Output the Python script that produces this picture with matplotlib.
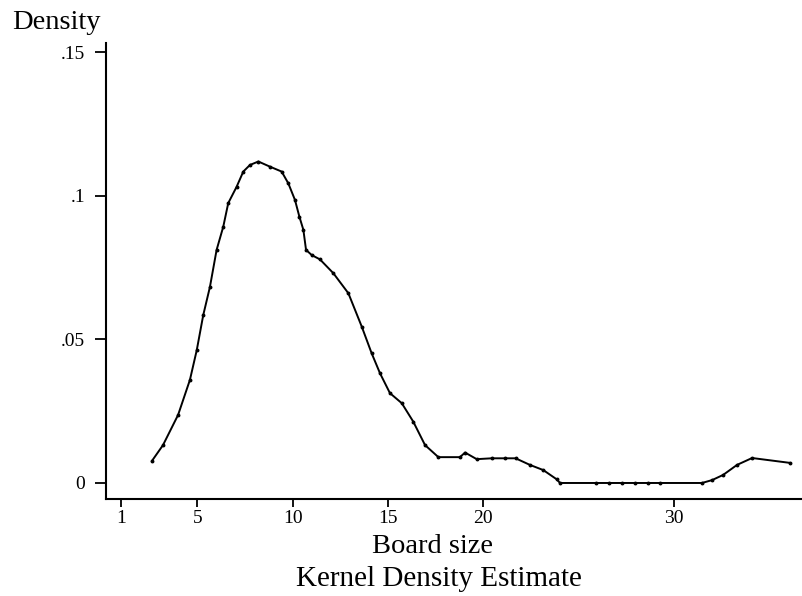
import matplotlib.pyplot as plt

# valores (estimativa de densidade kernel)
board_size = [2.62, 3.20, 3.99, 4.61, 4.97, 5.31, 5.66, 6.01, 6.36, 6.62, 7.06,
              7.41, 7.76, 8.20, 8.81, 9.42, 9.77, 10.12, 10.35, 10.56, 10.70,
              11.00, 11.43, 12.13, 12.92, 13.62, 14.14, 14.58, 15.10, 15.72,
              16.32, 16.94, 17.64, 18.77, 19.04, 19.65, 20.44, 21.13, 21.69,
              22.44, 23.14, 23.84, 24.02, 25.90, 26.59, 27.27, 27.95, 28.63,
              29.26, 31.46, 31.99, 32.57, 33.30, 34.09, 36.08]
density = [0.0077, 0.0132, 0.0237, 0.0359, 0.0463, 0.0585, 0.0683, 0.0812,
           0.0893, 0.0975, 0.1032, 0.1085, 0.1108, 0.1120, 0.1102, 0.1085,
           0.1044, 0.0986, 0.0928, 0.0882, 0.0812, 0.0794, 0.0779, 0.0731,
           0.0661, 0.0545, 0.0452, 0.0382, 0.0313, 0.0278, 0.0214, 0.0132,
           0.0090, 0.0090, 0.0106, 0.0083, 0.0086, 0.0086, 0.0086, 0.0063,
           0.0045, 0.0013, 0.0, 0.0, 0.0, 0.0, 0.0, 0.0, 0.0, 0.0, 0.0010,
           0.0028, 0.0063, 0.0087, 0.0070]

x_ticks = [1, 5, 10, 15, 20, 30]
y_ticks = [0, 0.05, 0.1, 0.15]
y_tick_labels = ['0', '.05', '.1', '.15']

plt.rcParams['font.family'] = ['Liberation Serif', 'DejaVu Serif']

fig = plt.figure(figsize=(8.03, 5.96), dpi=100)
ax = fig.add_axes([0.132, 0.1628, 0.868, 0.7651])

ax.plot(board_size, density, color='black', linewidth=1.4,
        marker='o', markersize=1.8)

ax.set_xlim(0.21, 36.76)
ax.set_ylim(-0.00557, 0.1533)
ax.set_xticks(x_ticks)
ax.set_yticks(y_ticks)
ax.set_yticklabels(y_tick_labels)

for lado in ['top', 'right']:
    ax.spines[lado].set_visible(False)
for lado in ['left', 'bottom']:
    ax.spines[lado].set_linewidth(1.5)

ax.tick_params(axis='x', direction='out', length=6, width=1.3, pad=2, labelsize=14)
ax.tick_params(axis='y', direction='out', length=8, width=1.3, pad=7, labelsize=14)

# rótulos no estilo Stata
ax.set_xlabel('Board size', fontsize=20.5, va='center')
ax.xaxis.set_label_coords(0.469, -0.1053)
fig.text(0.546, 0.0285, 'Kernel Density Estimate', fontsize=21, ha='center', va='center')
fig.text(0.015, 0.963, 'Density', fontsize=20.5, ha='left', va='center')

fig.savefig('out.png', dpi=100)
